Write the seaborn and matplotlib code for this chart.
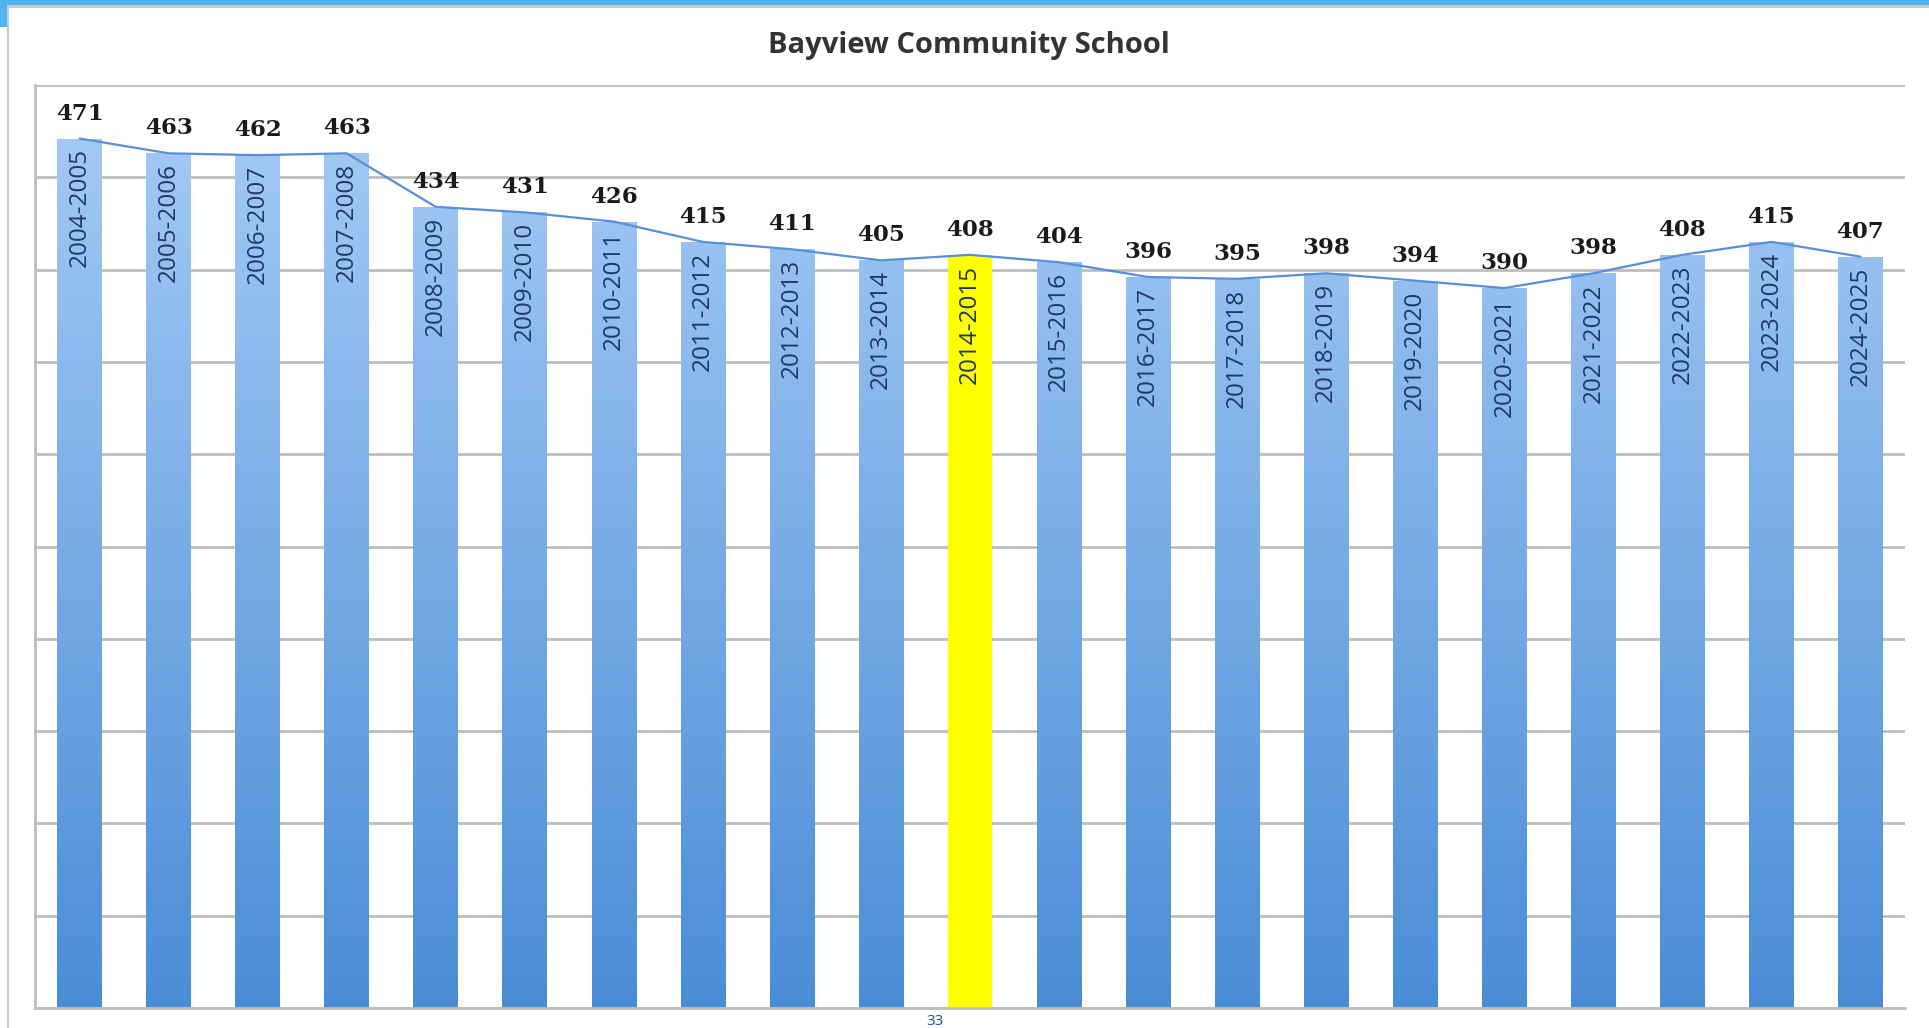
import numpy as np
import pandas as pd
import matplotlib
matplotlib.use("Agg")
import matplotlib.pyplot as plt
import seaborn as sns
from matplotlib.patches import Rectangle
from matplotlib.colors import LinearSegmentedColormap

# ---- data ----
years = ["2004-2005", "2005-2006", "2006-2007", "2007-2008", "2008-2009",
         "2009-2010", "2010-2011", "2011-2012", "2012-2013", "2013-2014",
         "2014-2015", "2015-2016", "2016-2017", "2017-2018", "2018-2019",
         "2019-2020", "2020-2021", "2021-2022", "2022-2023", "2023-2024",
         "2024-2025"]
enrollment = [471, 463, 462, 463, 434, 431, 426, 415, 411, 405,
              408, 404, 396, 395, 398, 394, 390, 398, 408, 415, 407]
highlight = "2014-2015"
title = "Bayview Community School"
page_number = "33"

df = pd.DataFrame({"year": years, "enrollment": enrollment})

W, H = 1929, 1028
sns.set_theme(style="white")
fig = plt.figure(figsize=(W / 100, H / 100), dpi=100)
fig.patch.set_facecolor("white")

n = len(years)
left_px, right_px = 35, 1905
ax = fig.add_axes([left_px / W, 1 - 1008 / H, (right_px - left_px) / W, (1008 - 85) / H])

palette = {y: ("#FFFF00" if y == highlight else "#7FB0EC") for y in years}
sns.barplot(data=df, x="year", y="enrollment", hue="year", palette=palette,
            legend=False, width=0.5, saturation=1, ax=ax, zorder=2)

ax.set_xlim(-0.5, n - 0.5)
ax.set_ylim(0, 500)

# gradient fill for blue bars
cmap = LinearSegmentedColormap.from_list("grad", ["#4A8DD7", "#A8CCF6"])
grad = np.linspace(0, 1, 256).reshape(-1, 1)
for patch, y in zip(ax.patches, years):
    if y == highlight:
        patch.set_edgecolor("none")
        continue
    x0 = patch.get_x()
    w = patch.get_width()
    patch.set_facecolor("none")
    patch.set_edgecolor("none")
    im = ax.imshow(grad, cmap=cmap, origin="lower", aspect="auto",
                   extent=[x0, x0 + w, 0, 500], zorder=2)
    im.set_clip_path(patch)

ax.set_xlim(-0.5, n - 0.5)
ax.set_ylim(0, 500)

# line across bar tops
sns.lineplot(x=np.arange(n), y=enrollment, ax=ax, color="#5A8FD6",
             linewidth=1.6, zorder=3)

# grid
ax.set_yticks(np.arange(0, 501, 50))
ax.yaxis.grid(True, color="#BDBDBD", linewidth=2, zorder=0)
ax.set_axisbelow(True)
ax.set_yticklabels([])
ax.set_xticks([])
ax.set_xlabel("")
ax.set_ylabel("")
for s in ["top", "right"]:
    ax.spines[s].set_visible(False)
for s in ["left", "bottom"]:
    ax.spines[s].set_color("#BDBDBD")
    ax.spines[s].set_linewidth(2)
ax.tick_params(left=False, bottom=False)

# labels
for i, (y, v) in enumerate(zip(years, enrollment)):
    ax.annotate(str(v), (i, v), xytext=(0, 18), textcoords="offset points",
                ha="center", va="center", fontsize=16.5, fontweight="bold",
                family="DejaVu Serif", color="#1a1a1a", zorder=5)
    ax.annotate(y, (i, v), xytext=(0, -7), textcoords="offset points",
                ha="center", va="top", rotation=90, fontsize=17.5,
                family="Open Sans", color="#1F3864", zorder=5)

# title
fig.text(969 / W, 1 - 45 / H, title, ha="center", va="center",
         fontsize=21, fontweight="bold", family="Open Sans", color="#333333")

# frame decorations
fig.add_artist(Rectangle((0, 1 - 5 / H), 1, 5 / H, transform=fig.transFigure,
                         facecolor="#4DB6EC", edgecolor="none"))
fig.add_artist(Rectangle((0, 1 - 8 / H), 1, 3 / H, transform=fig.transFigure,
                         facecolor="#C8C8C8", edgecolor="none"))
fig.add_artist(Rectangle((7 / W, 0), 2 / W, 1 - 8 / H, transform=fig.transFigure,
                         facecolor="#C8C8C8", edgecolor="none"))
fig.add_artist(Rectangle((0, 1 - 27 / H), 7 / W, 27 / H, transform=fig.transFigure,
                         facecolor="#4DB6EC", edgecolor="none"))

fig.text(935 / W, 1 - 1025 / H, page_number, ha="center", va="baseline",
         fontsize=11, family="Open Sans", color="#1F4E9A")

fig.savefig("out.png", dpi=100, facecolor="white")
